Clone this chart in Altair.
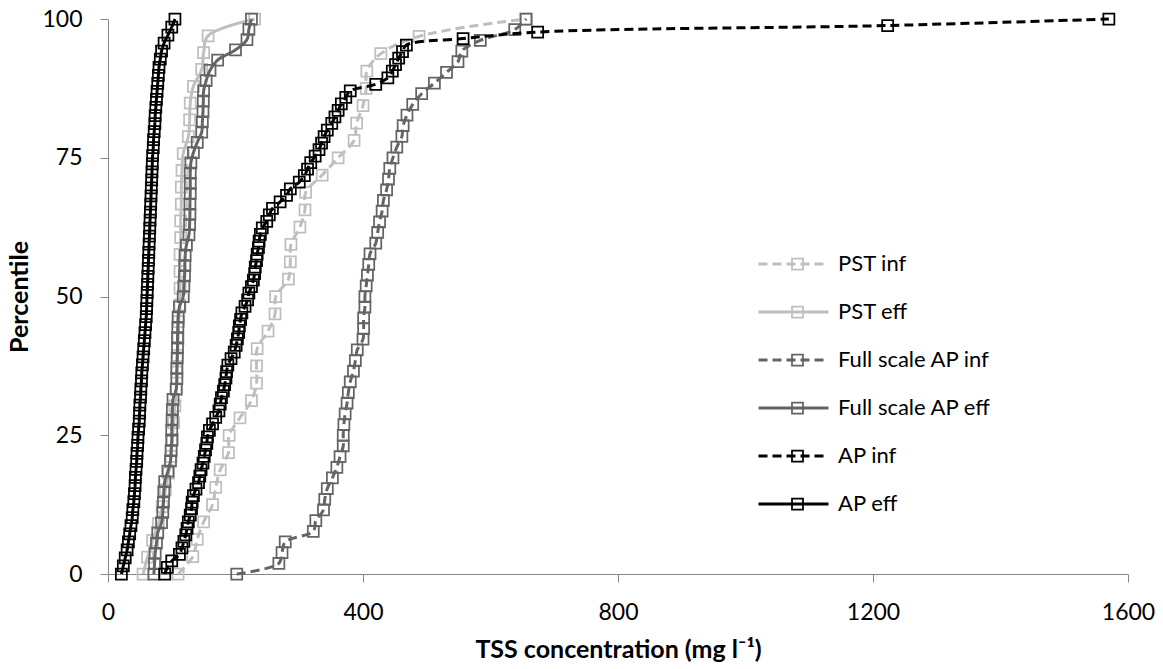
import altair as alt
import pandas as pd

series_names = ["PST inf", "PST eff", "Full scale AP inf", "Full scale AP eff", "AP inf", "AP eff"]
marker_keys = ["m1", "m2", "m3", "m4", "m5", "m6"]
series_colors = ["#BFBFBF", "#BFBFBF", "#646464", "#646464", "#000000", "#000000"]
series_dash = [[9, 5], [1, 0], [9, 5], [1, 0], [9, 5], [1, 0]]

x_ticks = [0, 400, 800, 1200, 1600]
y_ticks = [0, 25, 50, 75, 100]

# TSS concentrations (mg/l), sorted
pst_inf = [110, 133, 140, 150, 164, 169, 176, 189, 190, 207, 225, 233, 233, 234, 251, 262,
           263, 283, 286, 287, 301, 309, 310, 336, 361, 386, 390, 400, 405, 406, 428, 488, 655]
pst_eff = [55, 62, 70, 79, 85, 90, 95, 99, 101, 103, 105, 107, 108, 109, 110, 111, 113, 113,
           113, 113, 114, 114, 115, 115, 116, 118, 126, 128, 129, 134, 147, 150, 157, 230]
fs_ap_inf = [202, 268, 273, 278, 322, 326, 338, 340, 344, 352, 359, 364, 369, 369, 370, 372,
             375, 377, 380, 385, 388, 391, 400, 401, 401, 403, 403, 405, 407, 409, 411, 420,
             423, 426, 430, 432, 437, 440, 442, 447, 453, 461, 463, 469, 478, 492, 512, 531,
             549, 555, 584, 638, 656]
fs_ap_eff = [72, 73, 74, 76, 78, 84, 86, 87, 87.5, 89, 94, 98, 99, 100, 100, 100.5, 101, 102,
             107, 108, 108, 108.5, 109, 109, 109.5, 110, 112, 118, 119, 120, 120.5, 121, 123,
             127, 128, 128.5, 128.5, 129, 129, 129, 130, 134, 140, 147, 148, 149, 149.5, 150,
             154, 160, 172, 200, 218, 221, 225]
ap_inf = [89, 93, 100, 112, 116, 119, 122, 124, 126, 129, 131, 132, 134, 138, 142, 144, 146,
          149, 151, 153, 155, 156, 159, 164, 169, 174, 176, 178, 181, 183, 185, 186, 188, 193,
          198, 201, 203, 205, 206, 208, 210, 215, 219, 221, 225, 228, 230, 231, 233, 234, 236,
          237, 239, 242, 249, 253, 258, 270, 280, 286, 300, 308, 313, 318, 325, 331, 335, 339,
          344, 351, 356, 361, 366, 373, 380, 420, 439, 446, 451, 456, 462, 468, 557, 674, 1223,
          1570]
ap_eff = [21, 24, 27, 30, 32, 34, 36, 38, 39, 40.5, 41.5, 42.5, 43, 44, 45, 45.5, 46.5, 47, 48,
          49, 49.5, 50, 51, 51.5, 52.5, 53, 54, 55, 56, 57, 58, 59, 60, 60.5, 61, 61.5, 62, 62.5,
          63, 63.5, 64, 64.5, 65, 65.5, 66, 66.5, 67, 67.5, 68, 68.5, 69, 69.5, 70, 71, 71.5,
          72.5, 73.5, 74, 75, 76, 77, 78, 79, 80, 82, 84, 88, 94, 100, 105]

series_values = [pst_inf, pst_eff, fs_ap_inf, fs_ap_eff, ap_inf, ap_eff]


def percentile_rank(values):
    n = len(values)
    return [100.0 * i / (n - 1) for i in range(n)]


FONT = "Lato"
LABEL_SIZE = 23
LEGEND_SIZE = 22
TITLE_SIZE = 25
W, H = 1020, 555

x_axis = alt.Axis(values=x_ticks, format="d", grid=False, domainColor="#868686", domainWidth=1,
                  tickColor="#868686", tickSize=8, labelFont=FONT, labelFontSize=LABEL_SIZE,
                  labelColor="#000000", labelPadding=19, labelFlush=False,
                  title="TSS concentration (mg l⁻¹)", titleFont=FONT, titleFontSize=TITLE_SIZE,
                  titleFontWeight="bold", titleColor="#000000", titleX=W / 2, titleY=83,
                  titleBaseline="alphabetic", titleAlign="center")
y_axis = alt.Axis(values=y_ticks, format="d", grid=False, domainColor="#868686", domainWidth=1,
                  tickColor="#868686", tickSize=8, labelFont=FONT, labelFontSize=LABEL_SIZE,
                  labelColor="#000000", labelPadding=18, labelFlush=False,
                  title="Percentile", titleFont=FONT, titleFontSize=TITLE_SIZE,
                  titleFontWeight="bold", titleColor="#000000", titleX=-81, titleY=H / 2,
                  titleBaseline="alphabetic", titleAlign="center", titleAngle=270)

x_enc = alt.X("x:Q", scale=alt.Scale(domain=[0, 1600], nice=False, zero=True), axis=x_axis)
y_enc = alt.Y("p:Q", scale=alt.Scale(domain=[0, 100], nice=False), axis=y_axis)

leg_x = 649
leg_y = 235
legend_lines = alt.Legend(orient="none", legendX=leg_x, legendY=leg_y, title=None,
                          symbolType="stroke", symbolSize=4900, symbolStrokeWidth=3,
                          labelFont=FONT, labelFontSize=LEGEND_SIZE, labelColor="#000000",
                          labelOffset=8, rowPadding=26, clipHeight=20, padding=0,
                          labelLimit=400)
legend_marks = alt.Legend(orient="none", legendX=leg_x + 29.5, legendY=leg_y, title=None,
                          symbolType="square", symbolSize=121, symbolStrokeWidth=1.75,
                          symbolFillColor="transparent", labelExpr="' '",
                          labelFont=FONT, labelFontSize=LEGEND_SIZE, labelOpacity=0,
                          rowPadding=26, clipHeight=20, padding=0, labelLimit=400)

color_scale = alt.Scale(domain=series_names, range=series_colors)
dash_scale = alt.Scale(domain=series_names, range=series_dash)
mcolor_scale = alt.Scale(domain=marker_keys, range=series_colors)
shape_scale = alt.Scale(domain=marker_keys, range=["square"] * len(marker_keys))

layers = []
for name, key, vals in zip(series_names, marker_keys, series_values):
    df = pd.DataFrame({"x": vals, "p": percentile_rank(vals), "series": name, "mkey": key})
    base = alt.Chart(df)
    line = base.mark_line(strokeWidth=3, interpolate="catmull-rom").encode(
        x=x_enc, y=y_enc,
        color=alt.Color("series:N", scale=color_scale, legend=legend_lines),
        strokeDash=alt.StrokeDash("series:N", scale=dash_scale, legend=legend_lines),
        order=alt.Order("p:Q"),
    )
    pts = base.mark_point(filled=False, size=121, strokeWidth=1.75, opacity=1).encode(
        x=x_enc, y=y_enc,
        stroke=alt.Stroke("mkey:N", scale=mcolor_scale, legend=legend_marks),
        shape=alt.Shape("mkey:N", scale=shape_scale, legend=legend_marks),
    )
    layers += [line, pts]

chart = alt.layer(*layers).properties(
    width=W, height=H,
    autosize=alt.AutoSizeParams(type="none"),
    padding={"left": 108, "top": 19, "right": 35, "bottom": 95},
    background="#ffffff",
).configure_view(stroke=None)

chart.save("out.html", embed_options={"renderer": "svg", "actions": False})
